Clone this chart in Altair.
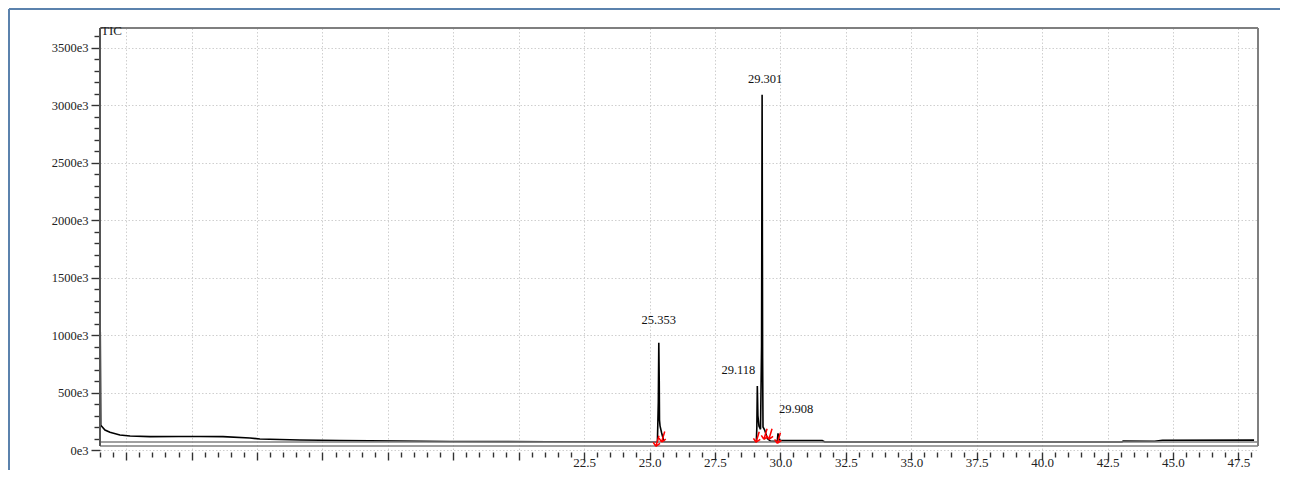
import altair as alt
import pandas as pd

# ---------------- data ----------------
times = [4.00, 4.01, 4.03, 4.19, 4.38, 4.76, 5.15, 5.91, 7.00, 7.82, 8.70, 9.73,
         10.11, 11.64, 13.16, 15.45, 17.36, 21.11, 25.30, 25.335, 25.353, 25.37,
         25.38, 25.40, 25.46, 25.55, 29.08, 29.10, 29.118, 29.14, 29.18, 29.24,
         29.28, 29.301, 29.32, 29.335, 29.40, 29.50, 29.62, 29.88, 29.908, 29.94,
         30.00, 31.60, 31.70, 43.05, 43.10, 44.30, 44.60, 48.10]
tic_e3 = [40, 1030, 215, 174, 154, 130, 122, 116, 118, 117, 116, 104,
          96, 87, 83, 78, 74, 72, 70, 420, 933, 600,
          260, 210, 150, 72, 70, 200, 557, 300, 209, 180,
          900, 3090, 800, 200, 174, 100, 78, 75, 145, 95,
          84, 82, 70, 70, 78, 76, 85, 86]

peak_times = [25.353, 29.118, 29.301, 29.908]
peak_e3 = [933, 557, 3090, 145]
peak_labels = ["25.353", "29.118", "29.301", "29.908"]

marker_times = [25.29, 25.51, 29.12, 29.42, 29.61, 29.93]
marker_e3 = [78, 115, 113, 139, 139, 104]

x_ticks = [round(4.0 + 0.5 * i, 1) for i in range(89)]      # 4.0 .. 48.0
y_ticks = [100000 * i for i in range(37)]                    # 0 .. 3600e3

X_DOMAIN = [4.0, 48.25]
Y_DOMAIN = [0, 3670000]
BASELINE = 70000
BOTTOM_EDGE = 35000

W, H = 1158, 422
SERIF = "Liberation Serif"

trace = pd.DataFrame({"t": times, "v": [e * 1000 for e in tic_e3]})
peaks = pd.DataFrame({"t": peak_times, "v": [e * 1000 for e in peak_e3], "label": peak_labels})
markers = pd.DataFrame({"t": marker_times, "v": [e * 1000 for e in marker_e3]})

xscale = alt.Scale(domain=X_DOMAIN, nice=False, zero=False)
yscale = alt.Scale(domain=Y_DOMAIN, nice=False, zero=False)

x_major = "abs(datum.value/2.5 - round(datum.value/2.5)) < 0.001"
y_major = "datum.value % 500000 == 0"

x_axis = alt.Axis(
    values=x_ticks, title=None, domain=False, offset=2,
    tickSize={"condition": {"test": x_major, "value": 8}, "value": 5},
    tickWidth=1.4, tickColor="#333333",
    labelExpr=f"datum.value >= 22.5 && {x_major} ? format(datum.value, '.1f') : ''",
    labelFont=SERIF, labelFontSize=13, labelColor="#222222",
    labelPadding=-4, labelOverlap=False, labelFlush=False,
    grid=True, gridColor="#cfcfcf", gridDash=[1.5, 2], gridWidth=1,
    gridOpacity={"condition": {"test": x_major, "value": 1}, "value": 0},
)
y_axis = alt.Axis(
    values=y_ticks, title=None, domain=False,
    tickSize={"condition": {"test": y_major, "value": 9}, "value": 6},
    tickWidth=1.4, tickColor="#333333",
    labelExpr=f"{y_major} ? (datum.value/1000) + 'e3' : ''",
    labelFont=SERIF, labelFontSize=12.5, labelColor="#222222",
    labelPadding=3, labelOverlap=False, labelFlush=False,
    grid=True, gridColor="#cfcfcf", gridDash=[1.5, 2], gridWidth=1,
    gridOpacity={"condition": {"test": y_major, "value": 1}, "value": 0},
)


def X(field):
    return alt.X(field, type="quantitative", scale=xscale, axis=x_axis)


def Y(field):
    return alt.Y(field, type="quantitative", scale=yscale, axis=y_axis)


def Yd(value):
    return alt.datum(value, type="quantitative", scale=yscale, axis=y_axis)


line = alt.Chart(trace).mark_line(color="#000000", strokeWidth=1.6, interpolate="linear").encode(
    x=X("t"), y=Y("v"))

frame_color = "#7f7f7f"
baseline = alt.Chart().mark_rule(color="#808080", strokeWidth=1.6).encode(
    x=alt.value(0), x2=alt.value(W), y=Yd(BASELINE))
bottom = alt.Chart().mark_rule(color=frame_color, strokeWidth=1.6).encode(
    x=alt.value(0), x2=alt.value(W), y=Yd(BOTTOM_EDGE))
top = alt.Chart().mark_rule(color=frame_color, strokeWidth=2).encode(
    x=alt.value(0), x2=alt.value(W), y=alt.value(0))
left = alt.Chart().mark_rule(color="#555555", strokeWidth=2).encode(
    x=alt.value(0), y=Yd(Y_DOMAIN[1]), y2=alt.datum(BOTTOM_EDGE))
right = alt.Chart().mark_rule(color=frame_color, strokeWidth=2).encode(
    x=alt.value(W), y=Yd(Y_DOMAIN[1]), y2=alt.datum(BOTTOM_EDGE))

win_color = "#5b82ad"
win_left = alt.Chart().mark_rule(color=win_color, strokeWidth=2).encode(
    x=alt.value(-91), y=alt.value(-19), y2=alt.value(H + 30))
win_top = alt.Chart().mark_rule(color=win_color, strokeWidth=2).encode(
    x=alt.value(-91), x2=alt.value(W + 30), y=alt.value(-19))

tic_label = alt.Chart().mark_text(
    text="TIC", align="left", baseline="alphabetic", font=SERIF, fontSize=13,
    color="#222222").encode(x=alt.value(1), y=alt.value(7))


def peak_text(label, align, dx, dy):
    return alt.Chart(peaks).transform_filter(alt.datum.label == label).mark_text(
        align=align, baseline="middle", dx=dx, dy=dy, font=SERIF, fontSize=12.5,
        color="#111111").encode(x=X("t"), y=Y("v"), text="label:N")


labels = [
    peak_text("25.353", "center", 0, -23),
    peak_text("29.301", "center", 3, -16),
    peak_text("29.118", "right", -2, -16),
    peak_text("29.908", "left", 1, -24),
]

arrow = "M0.35,-1L-0.25,1M-0.25,1L-0.75,0.25M-0.25,1L0.55,0.45"
mk = alt.Chart(markers).mark_point(
    shape=arrow, filled=False, color="#ff0000", strokeWidth=1.5, size=110, opacity=1).encode(
    x=X("t"), y=Y("v"))

chart = alt.layer(
    line, baseline, bottom, top, left, right, mk, *labels, tic_label, win_left, win_top
).properties(
    width=W, height=H,
    padding={"left": 92, "top": 20, "right": 22, "bottom": 20},
    autosize=alt.AutoSizeParams(type="none"),
    background="#ffffff",
).configure_view(stroke=None)

chart.save("out.html", embed_options={"renderer": "svg", "actions": False})
